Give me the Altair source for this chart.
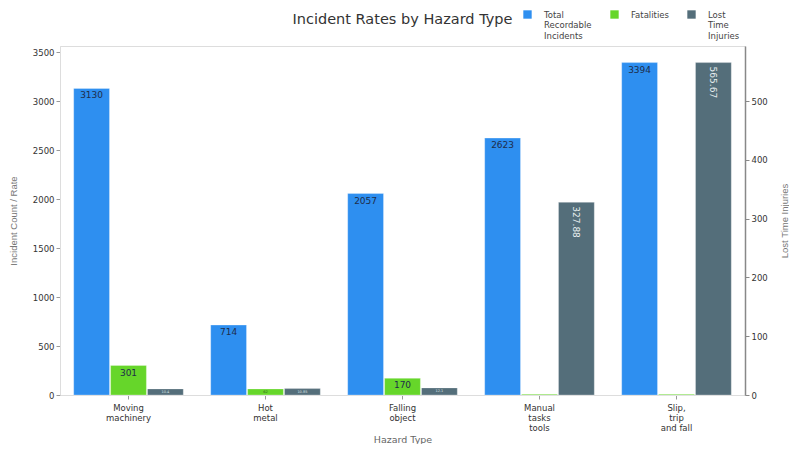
import altair as alt
import pandas as pd

# ---- data ----
tick_labels = ["Moving|machinery", "Hot|metal", "Falling|object", "Manual|tasks|tools", "Slip,|trip|and fall"]
total_incidents = [3130, 714, 2057, 2623, 3394]
fatalities = [301, 62, 170, 8, 7]
lost_time = [10.4, 10.85, 12.1, 327.88, 565.67]
series = ["Total Recordable Incidents", "Fatalities", "Lost Time Injuries"]
colors = ["#2e8ff0", "#66d62a", "#546e7a"]


def fmt(v):
    return str(int(v)) if float(v).is_integer() else str(v)


rows_left = []
for lab, t, f in zip(tick_labels, total_incidents, fatalities):
    rows_left.append({"label": lab, "series": series[0], "value": t, "txt": fmt(t)})
    rows_left.append({"label": lab, "series": series[1], "value": f, "txt": fmt(f)})
rows_right = []
for lab, l in zip(tick_labels, lost_time):
    rows_right.append({"label": lab, "series": series[2], "value": l, "txt": fmt(l)})

df_left = pd.DataFrame(rows_left)
df_right = pd.DataFrame(rows_right)

left_max = max(total_incidents) * 1.05
right_max = max(lost_time) * 1.05

TITLE_FONT = "Liberation Sans"

x_enc = alt.X(
    "label:N",
    sort=tick_labels,
    scale=alt.Scale(paddingInner=0.2, paddingOuter=0.1),
    axis=alt.Axis(
        title="Hazard Type",
        labelExpr="split(datum.label, '|')",
        labelAngle=0,
        labelFont="DejaVu Sans",
        labelFontSize=8.5,
        labelColor="#333333",
        labelPadding=4,
        labelLineHeight=10,
        tickSize=4,
        tickColor="#999999",
        domainColor="#dddddd",
        titleFont="DejaVu Sans",
        titleFontSize=9.5,
        titleFontWeight="normal",
        titleColor="#666666",
        titlePadding=3,
    ),
)
xo_enc = alt.XOffset("series:N", sort=series, scale=alt.Scale(domain=series, paddingInner=0.03))
color_enc = alt.Color(
    "series:N",
    scale=alt.Scale(domain=series, range=colors),
    legend=alt.Legend(
        title=None,
        orient="none",
        legendX=463,
        legendY=-36,
        direction="horizontal",
        columns=3,
        columnPadding=18,
        symbolType="square",
        symbolSize=70,
        symbolStrokeWidth=0,
        labelExpr="datum.label == 'Fatalities' ? ['Fatalities', '', ''] : split(datum.label, ' ')",
        labelFont="DejaVu Sans",
        labelFontSize=8.5,
        labelColor="#444444",
        labelOffset=12,
    ),
)

y_left = alt.Y(
    "value:Q",
    scale=alt.Scale(domain=[0, left_max], nice=False),
    axis=alt.Axis(
        title="Incident Count / Rate",
        values=[0, 500, 1000, 1500, 2000, 2500, 3000, 3500],
        format="d",
        grid=False,
        labelFont="DejaVu Sans",
        labelFontSize=8.5,
        labelColor="#333333",
        tickSize=4,
        tickColor="#999999",
        domainColor="#dddddd",
        titleFont=TITLE_FONT,
        titleFontSize=9.5,
        titleFontWeight="normal",
        titleColor="#777777",
        titlePadding=14,
    ),
)
y_right = alt.Y(
    "value:Q",
    scale=alt.Scale(domain=[0, right_max], nice=False),
    axis=alt.Axis(
        orient="right",
        title="Lost Time Injuries",
        values=[0, 100, 200, 300, 400, 500],
        format="d",
        grid=False,
        labelFont="DejaVu Sans",
        labelFontSize=8.5,
        labelColor="#333333",
        tickSize=4,
        tickColor="#888888",
        domainColor="#888888",
        domainWidth=1.5,
        titleFont=TITLE_FONT,
        titleFontSize=9.5,
        titleFontWeight="normal",
        titleColor="#777777",
        titleAngle=270,
        titlePadding=22,
    ),
)

base_left = alt.Chart(df_left).encode(x=x_enc, xOffset=xo_enc, y=y_left)
bars_left = base_left.mark_bar(stroke="#ffffff", strokeOpacity=0.35, strokeWidth=0.8).encode(color=color_enc)
text_left_big = base_left.transform_filter("datum.value >= 100").mark_text(
    baseline="top", dy=3, fontSize=9, font="DejaVu Sans", color="#1e2d4a"
).encode(text="txt:N")
text_left_small = base_left.transform_filter("datum.value < 100 && datum.value > 20").mark_text(
    baseline="top", dy=1.5, fontSize=3.5, font="DejaVu Sans", color="#2d4a1e"
).encode(text="txt:N")

base_right = alt.Chart(df_right).encode(x=x_enc, xOffset=xo_enc, y=y_right)
bars_right = base_right.mark_bar(stroke="#ffffff", strokeOpacity=0.35, strokeWidth=0.8).encode(color=color_enc)
text_right_big = base_right.transform_filter("datum.value >= 100").mark_text(
    angle=90, align="left", baseline="middle", dx=4, fontSize=9, font="DejaVu Sans", color="#e8eef0"
).encode(text="txt:N")
text_right_small = base_right.transform_filter("datum.value < 100").mark_text(
    baseline="top", dy=1.5, fontSize=3.5, font="DejaVu Sans", color="#dde3e6"
).encode(text="txt:N")

left = alt.layer(bars_left, text_left_big, text_left_small)
right = alt.layer(bars_right, text_right_big, text_right_small)

chart = (
    alt.layer(left, right)
    .resolve_scale(y="independent")
    .properties(
        width=685,
        height=349,
        padding={"left": 0, "top": 2, "right": 0, "bottom": 0},
        title=alt.TitleParams(
            "Incident Rates by Hazard Type",
            font="DejaVu Sans",
            fontSize=14.5,
            fontWeight="normal",
            color="#333333",
            anchor="middle",
            offset=-17,
        ),
    )
    .configure_view(stroke=None)
    .configure(background="white")
)

chart.save("out.html", embed_options={"renderer": "svg", "actions": False})
